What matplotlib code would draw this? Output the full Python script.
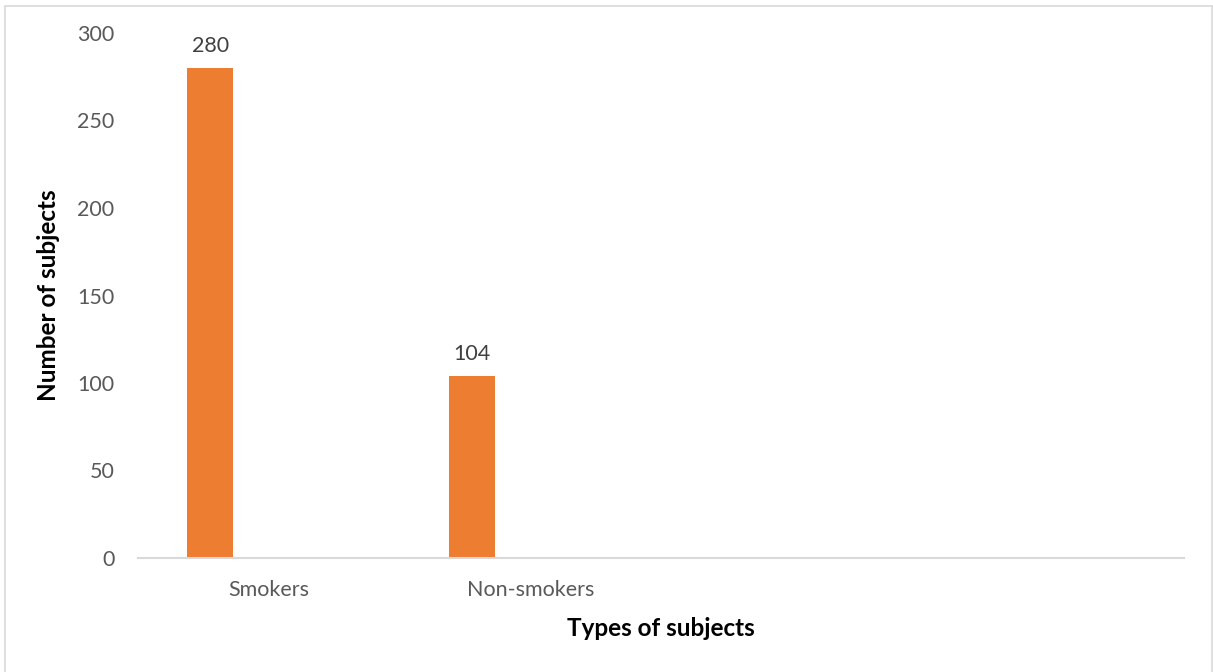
import matplotlib.pyplot as plt
import numpy as np
from matplotlib.patches import Rectangle

categories = ["Smokers", "Non-smokers", "", ""]
values = [280, 104, np.nan, np.nan]
y_ticks = [0, 50, 100, 150, 200, 250, 300]

BAR_COLOR = "#ED7D31"
TEXT_GRAY = "#595959"
LINE_GRAY = "#D9D9D9"

plt.rcParams["font.family"] = ["Lato", "DejaVu Sans"]

fig = plt.figure(figsize=(12.13, 6.72), dpi=100)
ax = fig.add_axes([138 / 1213, 1 - 558 / 672, (1184 - 138) / 1213, (558 - 33) / 672])

x = np.arange(len(categories))
# first series of a clustered column chart, so bars sit left of the category centre
bars = ax.bar(x - 0.224, values, width=0.176, color=BAR_COLOR, zorder=2)

for xi, v in zip(x, values):
    if np.isnan(v):
        continue
    ax.annotate(f"{v:.0f}", (xi - 0.224, v), xytext=(0, 9), textcoords="offset points",
                ha="center", va="bottom", fontsize=15.5, color="#404040")

ax.set_xlim(-0.5, len(categories) - 0.5)
ax.set_ylim(0, 300)
ax.set_xticks(x)
ax.set_xticklabels(categories, fontsize=15.5, color=TEXT_GRAY)
ax.set_yticks(y_ticks)
ax.set_yticklabels([str(t) for t in y_ticks], fontsize=15.5, color=TEXT_GRAY)
ax.tick_params(axis="both", length=0)
ax.tick_params(axis="x", pad=16)
ax.tick_params(axis="y", pad=17)

for side in ["top", "right", "left"]:
    ax.spines[side].set_visible(False)
ax.spines["bottom"].set_color(LINE_GRAY)
ax.spines["bottom"].set_linewidth(1.5)

ax.set_xlabel("Types of subjects", fontsize=17.5, fontweight="bold", labelpad=12)
ax.set_ylabel("Number of subjects", fontsize=17.5, fontweight="bold", labelpad=12)

# light chart-area border like the Excel export
fig.patches.append(Rectangle((5 / 1213, -0.05), 1207 / 1213, 1 - 6 / 672 + 0.05,
                             transform=fig.transFigure, fill=False,
                             edgecolor=LINE_GRAY, linewidth=1.2))

fig.savefig("out.png", dpi=100)
plt.close(fig)
